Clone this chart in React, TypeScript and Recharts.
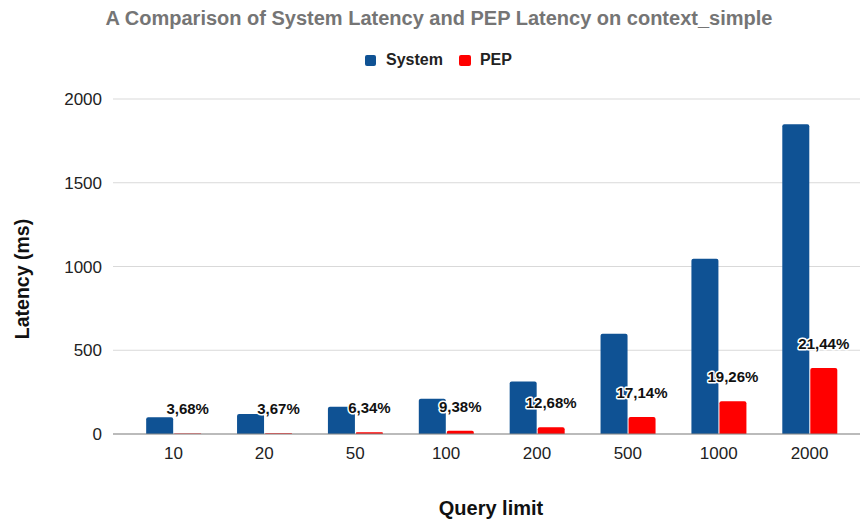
import React from 'react';
import { BarChart, Bar, XAxis, YAxis, CartesianGrid, LabelList } from 'recharts';

const queryLimits = ['10', '20', '50', '100', '200', '500', '1000', '2000'];
const systemLatency = [100, 120, 163, 211, 313, 598, 1046, 1849];
const pepLatency = [3.7, 4.4, 10.3, 20, 40, 102, 195, 394];
const pepShare = ['3,68%', '3,67%', '6,34%', '9,38%', '12,68%', '17,14%', '19,26%', '21,44%'];
const yTicks = [0, 500, 1000, 1500, 2000];

const FONT = '"Liberation Sans", Arial, sans-serif';
const BLUE = '#0f5294';
const RED = '#ff0000';

const PctLabel = (props: any) => {
    const { x, y, width, value } = props;
    return (
        <text
            x={x + width / 2}
            y={y - 19}
            textAnchor="middle"
            fontFamily={FONT}
            fontSize={15}
            fontWeight="bold"
            fill="#111"
            stroke="#fff"
            strokeWidth={3}
            strokeLinejoin="round"
            style={{ paintOrder: 'stroke' }}
        >
            {value}
        </text>
    );
};

export default function App() {
    const data = queryLimits.map((q, i) => ({
        q,
        system: systemLatency[i],
        pep: pepLatency[i],
        pct: pepShare[i],
    }));

    return (
        <div style={{ position: 'absolute', left: 0, top: 0, width: 860, height: 519, background: '#fff', fontFamily: FONT }}>
            <div style={{ position: 'absolute', left: 0, width: 878, top: 6, textAlign: 'center', fontSize: 20, fontWeight: 'bold', color: '#757575', lineHeight: '24px' }}>
                A Comparison of System Latency and PEP Latency on context_simple
            </div>
            <div style={{ position: 'absolute', left: 365, top: 50, display: 'flex', alignItems: 'center', fontSize: 16, fontWeight: 'bold', color: '#222', lineHeight: '20px' }}>
                <span style={{ width: 11, height: 11, background: BLUE, borderRadius: 2, marginRight: 10 }} />
                <span>System</span>
                <span style={{ width: 12, height: 11, background: RED, borderRadius: 2, marginLeft: 16, marginRight: 9 }} />
                <span>PEP</span>
            </div>
            <div style={{ position: 'absolute', left: 22, top: 279, transform: 'translate(-50%, -50%) rotate(-90deg)', fontSize: 19.5, fontWeight: 'bold', color: '#111', whiteSpace: 'nowrap' }}>
                Latency (ms)
            </div>
            <div style={{ position: 'absolute', left: 491, top: 508, transform: 'translate(-50%, -50%)', fontSize: 20, fontWeight: 'bold', color: '#111', whiteSpace: 'nowrap' }}>
                Query limit
            </div>
            <BarChart
                width={860}
                height={519}
                data={data}
                margin={{ top: 99, right: 0, bottom: 0, left: 0 }}
                barCategoryGap="20%"
                barGap={1}
            >
                <CartesianGrid vertical={false} stroke="#d9d9d9" />
                <XAxis
                    dataKey="q"
                    height={85}
                    padding={{ left: 15, right: 5 }}
                    tickLine={false}
                    tickSize={0}
                    tickMargin={13}
                    axisLine={{ stroke: '#8a8a8a' }}
                    tick={{ fontFamily: FONT, fontSize: 17, fill: '#222' }}
                    interval={0}
                />
                <YAxis
                    width={113}
                    domain={[0, 2000]}
                    ticks={yTicks}
                    axisLine={false}
                    tickLine={false}
                    tickSize={0}
                    tickMargin={11}
                    tick={{ fontFamily: FONT, fontSize: 17, fill: '#222' }}
                />
                <Bar dataKey="system" name="System" fill={BLUE} radius={[2, 2, 0, 0]} isAnimationActive={false} />
                <Bar dataKey="pep" name="PEP" fill={RED} radius={[2, 2, 0, 0]} isAnimationActive={false}>
                    <LabelList dataKey="pct" content={PctLabel} />
                </Bar>
            </BarChart>
        </div>
    );
}
